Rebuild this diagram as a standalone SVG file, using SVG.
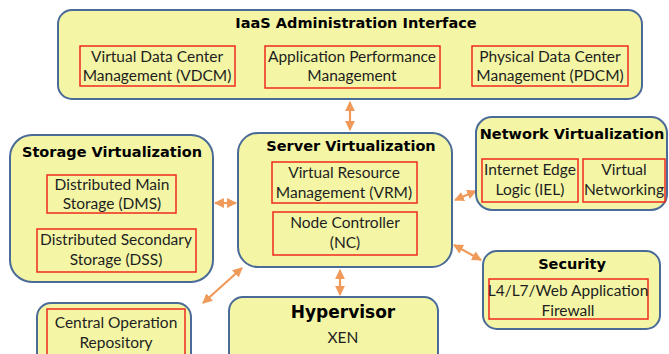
<svg xmlns="http://www.w3.org/2000/svg" width="669" height="354" viewBox="0 0 669 354">
  <style>
    .box { fill: #f4f6a6; stroke: #4a6a98; stroke-width: 2; }
    .sub { fill: none; stroke: #f02a1e; stroke-width: 1.5; }
    .title { font-family: "DejaVu Sans", "Liberation Sans", sans-serif; font-weight: bold; font-size: 14.5px; fill: #000; text-anchor: middle; }
    .txt { font-family: "Lato", "Open Sans", sans-serif; font-size: 15.5px; fill: #1e1e1e; text-anchor: middle; }
    .link { stroke: #ef9a5a; stroke-width: 2.2; fill: none; marker-start: url(#head); marker-end: url(#head); }
  </style>
  <defs>
    <marker id="head" viewBox="0 0 10 10" refX="9" refY="5" markerWidth="4.5" markerHeight="4.5" orient="auto-start-reverse" markerUnits="strokeWidth">
      <path d="M0,0 L10,5 L0,10 z" fill="#ef9a5a"/>
    </marker>
  </defs>
  <rect width="669" height="354" fill="#ffffff"/>

  <g id="connectors">
    <line class="link" x1="350" y1="102" x2="350" y2="130"/>
    <line class="link" x1="215" y1="203" x2="236" y2="203"/>
    <line class="link" x1="455" y1="200" x2="476" y2="191"/>
    <line class="link" x1="454" y1="245" x2="481" y2="260"/>
    <line class="link" x1="340" y1="270" x2="340" y2="295"/>
    <line class="link" x1="242" y1="268" x2="203" y2="303"/>
  </g>

  <g id="iaas">
    <rect class="box" x="58" y="10" width="584" height="89" rx="14"/>
    <text class="title" x="356" y="28">IaaS Administration Interface</text>
    <rect class="sub" x="80" y="46" width="155" height="40"/>
    <text class="txt" x="157" y="62">Virtual Data Center</text>
    <text class="txt" x="157" y="81">Management (VDCM)</text>
    <rect class="sub" x="265" y="46" width="175" height="42"/>
    <text class="txt" x="352" y="62">Application Performance</text>
    <text class="txt" x="352" y="81">Management</text>
    <rect class="sub" x="472" y="46" width="156" height="40"/>
    <text class="txt" x="550" y="62">Physical Data Center</text>
    <text class="txt" x="550" y="81">Management (PDCM)</text>
  </g>

  <g id="storage">
    <rect class="box" x="10" y="135" width="203" height="147" rx="22"/>
    <text class="title" x="112" y="157">Storage Virtualization</text>
    <rect class="sub" x="47" y="175" width="129" height="38"/>
    <text class="txt" x="112" y="190">Distributed Main</text>
    <text class="txt" x="112" y="209">Storage (DMS)</text>
    <rect class="sub" x="37" y="229" width="159" height="43"/>
    <text class="txt" x="116" y="245">Distributed Secondary</text>
    <text class="txt" x="116" y="265">Storage (DSS)</text>
  </g>

  <g id="server">
    <rect class="box" x="238" y="133" width="214" height="134" rx="20"/>
    <text class="title" x="351" y="151">Server Virtualization</text>
    <rect class="sub" x="272" y="162" width="145" height="41"/>
    <text class="txt" x="344" y="178">Virtual Resource</text>
    <text class="txt" x="344" y="198">Management (VRM)</text>
    <rect class="sub" x="273" y="212" width="144" height="43"/>
    <text class="txt" x="345" y="228">Node Controller</text>
    <text class="txt" x="345" y="248">(NC)</text>
  </g>

  <g id="network">
    <rect class="box" x="476" y="117" width="191" height="93" rx="16"/>
    <text class="title" x="572" y="139">Network Virtualization</text>
    <rect class="sub" x="482" y="159" width="96" height="43"/>
    <text class="txt" x="530" y="175">Internet Edge</text>
    <text class="txt" x="530" y="195">Logic (IEL)</text>
    <rect class="sub" x="583" y="159" width="82" height="43"/>
    <text class="txt" x="624" y="175">Virtual</text>
    <text class="txt" x="624" y="195">Networking</text>
  </g>

  <g id="security">
    <rect class="box" x="483" y="251" width="177" height="78" rx="14"/>
    <text class="title" x="572" y="269">Security</text>
    <rect class="sub" x="489" y="279" width="159" height="40"/>
    <text class="txt" x="568" y="296">L4/L7/Web Application</text>
    <text class="txt" x="568" y="316">Firewall</text>
  </g>

  <g id="hypervisor">
    <rect class="box" x="229" y="297" width="209" height="72" rx="14"/>
    <text class="title" x="343" y="318" style="font-size:17px">Hypervisor</text>
    <text class="txt" x="343" y="343">XEN</text>
  </g>

  <g id="repository">
    <rect class="box" x="37" y="303" width="154" height="66" rx="14"/>
    <rect class="sub" x="47" y="309" width="138" height="50"/>
    <text class="txt" x="116" y="328">Central Operation</text>
    <text class="txt" x="116" y="348">Repository</text>
  </g>
</svg>
